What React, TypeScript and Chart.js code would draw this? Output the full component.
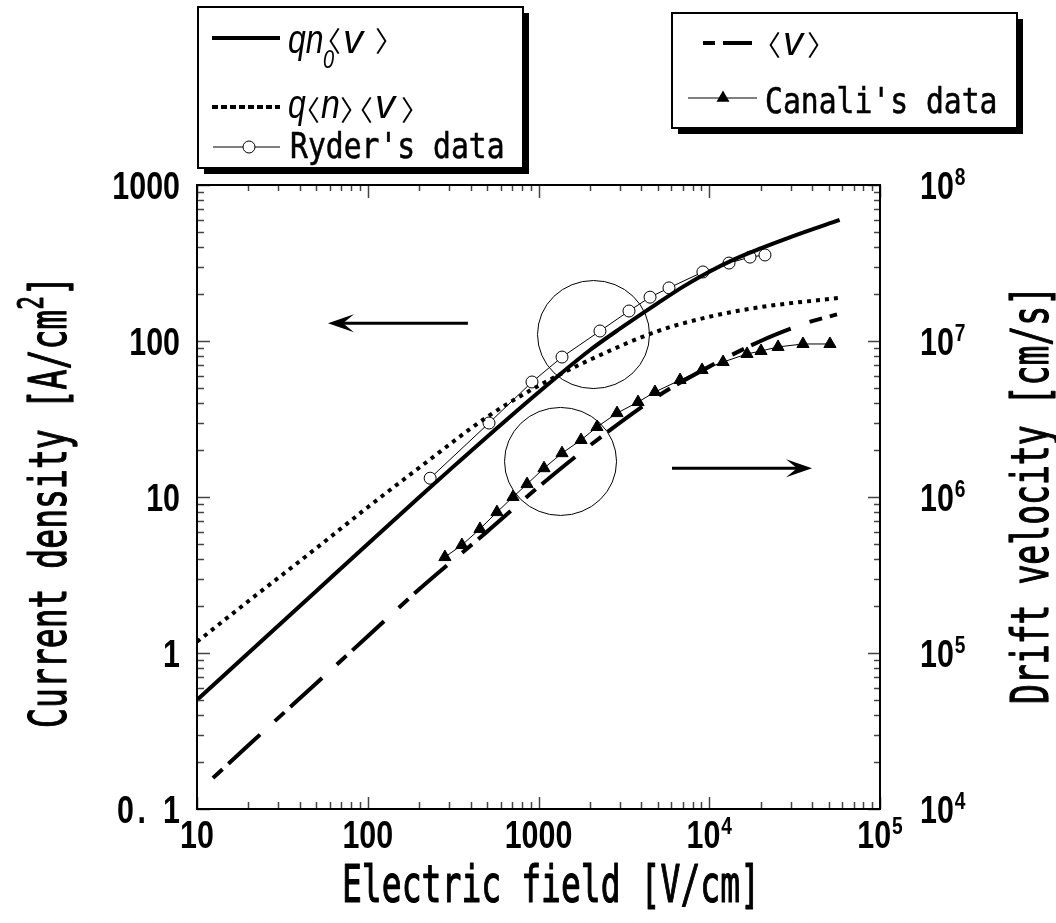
import React, { useEffect, useRef } from "react";
import { Chart, registerables } from "chart.js";

Chart.register(...registerables);

// ---------- data ----------
// q n0 <v>  (left axis, A/cm^2)
const qn0Field = [10, 20, 50, 100, 200, 316, 631, 1259, 1995, 3000, 5000, 7080, 10000, 14100, 20000, 31600, 58000];
const qn0Current = [0.5, 1.0, 2.5, 5.0, 9.95, 15.6, 30.4, 57.9, 87.2, 120, 175, 224, 278, 335, 392, 474, 597];

// q <n><v>  (left axis)
const qnvField = [10, 20, 50, 100, 200, 500, 1000, 2000, 5000, 10000, 20000, 58000];
const qnvCurrent = [1.18, 2.15, 4.7, 8.6, 15.4, 32.6, 51.6, 75.8, 115.7, 143, 165, 189];

// Ryder's data (left axis)
const ryderField = [232, 513, 916, 1373, 2291, 3388, 4500, 5810, 9180, 13050, 17330, 21200];
const ryderCurrent = [13.2, 29.8, 54.6, 78.9, 115.9, 155.7, 191, 219, 277, 316, 345, 356];

// <v>  (right axis, cm/s)
const vField = [12.4, 20, 50, 100, 200, 500, 1000, 2000, 5000, 10000, 20000, 30000, 40000, 56000];
const vVelocity = [1.58e4, 2.56e4, 6.4e4, 1.28e5, 2.56e5, 6.0e5, 1.16e6, 2.14e6, 4.43e6, 6.85e6, 1.0e7, 1.2e7, 1.34e7, 1.48e7];

// Canali's data (right axis)
const canaliField = [283, 356, 454, 571, 709, 857, 1077, 1373, 1775, 2201, 2884, 3828, 4810, 6745, 9075, 12050, 16640, 20100, 25290, 35400, 50930];
const canaliVelocity = [4.12e5, 4.92e5, 6.24e5, 8.0e5, 1.0e6, 1.21e6, 1.53e6, 1.91e6, 2.32e6, 2.81e6, 3.45e6, 4.06e6, 4.71e6, 5.62e6, 6.52e6, 7.33e6, 8.26e6, 8.63e6, 9.16e6, 9.57e6, 9.57e6];

// tick labels
const xTickValues = [10, 100, 1000, 1e4, 1e5];
const xTickBase = ["10", "100", "1000", "10", "10"];
const xTickSup = ["", "", "", "4", "5"];
const yTickValues = [0.1, 1, 10, 100, 1000];
const yTickLabels = ["0. 1", "1", "10", "100", "1000"];
const y2TickValues = [1e4, 1e5, 1e6, 1e7, 1e8];
const y2TickSup = ["4", "5", "6", "7", "8"];

// annotations (data coordinates)
const ringField = [2100, 1346];
const ringCurrent = [110, 16.9];
const arrowTailField = [386, 6050];
const arrowTipField = [58.5, 40000];
const arrowCurrent = [130, 15.3];

// ---------- fonts ----------
const MONO = '"DejaVu Sans Mono", monospace';
const SANS = '"Liberation Sans", Arial, sans-serif';
const TICK_FONT = `bold 38px ${SANS}`;
const SUP_FONT = `bold 24px ${SANS}`;
const TICK_SX = 0.8;
const TITLE_FONT = `52px ${MONO}`;
const TITLE_SUP_FONT = `36px ${MONO}`;
const TITLE_SX = 0.636;
const LEG_FONT = `36px ${MONO}`;
const LEG_SX = 0.825;
const ITAL = `italic 40px ${SANS}`;
const ITAL_SUB = `italic 25px ${SANS}`;
const BRACKET = `28px "Noto Sans CJK JP", "DejaVu Sans", sans-serif`;

function textAt(ctx: any, text: string, x: number, y: number, font: string, sx: number, align: any = "left", baseline: any = "alphabetic", bold = 0) {
  ctx.save();
  ctx.translate(x, y);
  ctx.scale(sx, 1);
  ctx.font = font;
  ctx.textAlign = align;
  ctx.textBaseline = baseline;
  ctx.fillText(text, 0, 0);
  if (bold > 0) {
    ctx.lineWidth = bold;
    ctx.strokeStyle = "#000";
    ctx.lineJoin = "round";
    ctx.strokeText(text, 0, 0);
  }
  ctx.restore();
}

function widthOf(ctx: any, text: string, font: string, sx: number) {
  ctx.save();
  ctx.font = font;
  const w = ctx.measureText(text).width * sx;
  ctx.restore();
  return w;
}

// CJK angle brackets sit off-centre in their em box; shift so the glyph lands at x
function openBracket(ctx: any, x: number, y: number) {
  textAt(ctx, "\u3008", x - 7, y, BRACKET, 1, "center", "middle");
}
function closeBracket(ctx: any, x: number, y: number) {
  textAt(ctx, "\u3009", x + 7, y, BRACKET, 1, "center", "middle");
}

function triangle(ctx: any, x: number, y: number, r: number) {
  ctx.beginPath();
  for (let i = 0; i < 3; i++) {
    const a = (i * 2 * Math.PI) / 3;
    const px = x + Math.sin(a) * r;
    const py = y - Math.cos(a) * r;
    if (i === 0) ctx.moveTo(px, py);
    else ctx.lineTo(px, py);
  }
  ctx.closePath();
  ctx.fill();
}

function arrow(ctx: any, x1: number, y: number, x2: number) {
  const dir = Math.sign(x2 - x1);
  ctx.lineWidth = 3;
  ctx.beginPath();
  ctx.moveTo(x1, y);
  ctx.lineTo(x2 - dir * 12, y);
  ctx.stroke();
  ctx.beginPath();
  ctx.moveTo(x2, y);
  ctx.lineTo(x2 - dir * 26, y - 9);
  ctx.lineTo(x2 - dir * 15, y);
  ctx.lineTo(x2 - dir * 26, y + 9);
  ctx.closePath();
  ctx.fill();
}

function box(ctx: any, x: number, y: number, w: number, h: number) {
  ctx.fillStyle = "#000";
  ctx.fillRect(x + 6, y + 6, w, h);
  ctx.fillStyle = "#fff";
  ctx.fillRect(x, y, w, h);
  ctx.strokeStyle = "#000";
  ctx.lineWidth = 2;
  ctx.strokeRect(x, y, w, h);
  ctx.fillStyle = "#000";
}

const decorPlugin = {
  id: "decor",
  afterDatasetsDraw(chart: any) {
    const ctx = chart.ctx;
    const xs = chart.scales.x;
    const ys = chart.scales.y;
    ctx.save();
    ctx.strokeStyle = "#000";
    ctx.fillStyle = "#000";
    ctx.lineWidth = 1;
    for (let i = 0; i < ringField.length; i++) {
      const cx = xs.getPixelForValue(ringField[i]);
      const cy = ys.getPixelForValue(ringCurrent[i]);
      ctx.beginPath();
      ctx.ellipse(cx, cy, 56, 54, 0, 0, Math.PI * 2);
      ctx.stroke();
    }
    for (let i = 0; i < arrowTailField.length; i++) {
      const y = ys.getPixelForValue(arrowCurrent[i]);
      arrow(ctx, xs.getPixelForValue(arrowTailField[i]), y, xs.getPixelForValue(arrowTipField[i]));
    }
    ctx.restore();
  },
  afterDraw(chart: any) {
    const ctx = chart.ctx;
    const a = chart.chartArea;
    const xs = chart.scales.x;
    const ys = chart.scales.y;
    const y2 = chart.scales.y2;
    ctx.save();

    // ---- ticks ----
    ctx.strokeStyle = "#444";
    ctx.lineWidth = 1.5;
    const logTicks = (min: number, max: number) => {
      const out: { v: number; major: boolean }[] = [];
      for (let e = Math.round(Math.log10(min)); e <= Math.round(Math.log10(max)); e++) {
        for (let k = 1; k <= 9; k++) {
          const v = k * Math.pow(10, e);
          if (v > max * 1.0001) break;
          out.push({ v, major: k === 1 });
        }
      }
      return out;
    };
    ctx.beginPath();
    for (const t of logTicks(10, 1e5)) {
      const px = Math.round(xs.getPixelForValue(t.v)) + 0.5;
      ctx.moveTo(px, a.bottom);
      ctx.lineTo(px, a.bottom - (t.major ? 12 : 7));
      ctx.moveTo(px, a.top);
      ctx.lineTo(px, a.top + (t.major ? 13 : 6));
    }
    for (const t of logTicks(0.1, 1000)) {
      const py = Math.round(ys.getPixelForValue(t.v)) + 0.5;
      ctx.moveTo(a.left, py);
      ctx.lineTo(a.left + (t.major ? 13 : 7), py);
    }
    for (const t of logTicks(1e4, 1e8)) {
      const py = Math.round(y2.getPixelForValue(t.v)) + 0.5;
      ctx.moveTo(a.right, py);
      ctx.lineTo(a.right - (t.major ? 12 : 6), py);
    }
    ctx.stroke();

    // ---- frame ----
    ctx.strokeStyle = "#000";
    ctx.lineWidth = 2;
    ctx.strokeRect(a.left, a.top, a.right - a.left, a.bottom - a.top);

    ctx.fillStyle = "#000";
    // ---- bottom tick labels ----
    for (let i = 0; i < xTickValues.length; i++) {
      const px = xs.getPixelForValue(xTickValues[i]);
      const wb = widthOf(ctx, xTickBase[i], TICK_FONT, TICK_SX);
      const ws = xTickSup[i] ? widthOf(ctx, xTickSup[i], SUP_FONT, TICK_SX) + 1 : 0;
      const x0 = px - (wb + ws) / 2;
      textAt(ctx, xTickBase[i], x0, 848, TICK_FONT, TICK_SX);
      if (xTickSup[i]) textAt(ctx, xTickSup[i], x0 + wb + 1, 834, SUP_FONT, TICK_SX);
    }
    // ---- left tick labels ----
    for (let i = 0; i < yTickValues.length; i++) {
      const py = ys.getPixelForValue(yTickValues[i]);
      const lab = yTickLabels[i];
      if (lab === "0. 1") {
        textAt(ctx, "1", 180, py + 14, TICK_FONT, TICK_SX, "right");
        textAt(ctx, ".", 146, py + 14, TICK_FONT, TICK_SX, "right");
        textAt(ctx, "0", 134, py + 14, TICK_FONT, TICK_SX, "right");
      } else {
        textAt(ctx, lab, 180, py + 14, TICK_FONT, TICK_SX, "right");
      }
    }
    // ---- right tick labels ----
    for (let i = 0; i < y2TickValues.length; i++) {
      const py = y2.getPixelForValue(y2TickValues[i]);
      const wb = widthOf(ctx, "10", TICK_FONT, TICK_SX);
      textAt(ctx, "10", 920, py + 14, TICK_FONT, TICK_SX);
      textAt(ctx, y2TickSup[i], 920 + wb + 1, py, SUP_FONT, TICK_SX);
    }

    // ---- axis titles ----
    textAt(ctx, "Electric field [V/cm]", 551, 902, TITLE_FONT, TITLE_SX, "center", "alphabetic", 1.2);

    const leftMain = "Current density [A/cm";
    const wMain = widthOf(ctx, leftMain, TITLE_FONT, TITLE_SX);
    const wSup = widthOf(ctx, "2", TITLE_SUP_FONT, TITLE_SX);
    const wEnd = widthOf(ctx, "]", TITLE_FONT, TITLE_SX);
    const total = wMain + wSup + wEnd;
    ctx.save();
    ctx.translate(66, 502);
    ctx.rotate(-Math.PI / 2);
    textAt(ctx, leftMain, -total / 2, 0, TITLE_FONT, TITLE_SX, "left", "alphabetic", 1.2);
    textAt(ctx, "2", -total / 2 + wMain, -23, TITLE_SUP_FONT, TITLE_SX, "left", "alphabetic", 1);
    textAt(ctx, "]", -total / 2 + wMain + wSup, 0, TITLE_FONT, TITLE_SX, "left", "alphabetic", 1.2);
    ctx.restore();

    ctx.save();
    ctx.translate(1048, 495);
    ctx.rotate(-Math.PI / 2);
    textAt(ctx, "Drift velocity [cm/s]", 0, 0, TITLE_FONT, TITLE_SX, "center", "alphabetic", 1.2);
    ctx.restore();

    // ---- legend box 1 ----
    box(ctx, 198, 7, 325, 161);
    ctx.strokeStyle = "#000";
    ctx.lineWidth = 4;
    ctx.beginPath();
    ctx.moveTo(212, 38);
    ctx.lineTo(280, 38);
    ctx.stroke();
    textAt(ctx, "qn", 288, 53, ITAL, 0.8);
    textAt(ctx, "0", 323, 68, ITAL_SUB, 0.8);
    openBracket(ctx, 334, 41);
    textAt(ctx, "v", 343, 53, ITAL, 1);
    closeBracket(ctx, 382, 41);

    ctx.setLineDash([6, 3]);
    ctx.beginPath();
    ctx.moveTo(212, 107);
    ctx.lineTo(280, 107);
    ctx.stroke();
    ctx.setLineDash([]);
    textAt(ctx, "q", 288, 118, ITAL, 0.8);
    openBracket(ctx, 313, 110);
    textAt(ctx, "n", 321, 118, ITAL, 0.85);
    closeBracket(ctx, 347, 110);
    openBracket(ctx, 366, 110);
    textAt(ctx, "v", 375, 118, ITAL, 1);
    closeBracket(ctx, 408, 110);

    ctx.lineWidth = 1;
    ctx.beginPath();
    ctx.moveTo(213, 147);
    ctx.lineTo(280, 147);
    ctx.stroke();
    ctx.beginPath();
    ctx.arc(249, 147, 6, 0, Math.PI * 2);
    ctx.fillStyle = "#fff";
    ctx.fill();
    ctx.stroke();
    ctx.fillStyle = "#000";
    textAt(ctx, "Ryder's data", 290, 158, LEG_FONT, LEG_SX, "left", "alphabetic", 0.6);

    // ---- legend box 2 ----
    box(ctx, 672, 13, 345, 115);
    ctx.lineWidth = 4;
    ctx.beginPath();
    ctx.moveTo(703, 43);
    ctx.lineTo(715, 43);
    ctx.moveTo(723, 43);
    ctx.lineTo(752, 43);
    ctx.stroke();
    openBracket(ctx, 774, 45);
    textAt(ctx, "v", 783, 55, ITAL, 1);
    closeBracket(ctx, 814, 45);

    ctx.lineWidth = 1;
    ctx.beginPath();
    ctx.moveTo(688, 98);
    ctx.lineTo(757, 98);
    ctx.stroke();
    triangle(ctx, 723, 98, 7.5);
    textAt(ctx, "Canali's data", 765, 113, LEG_FONT, LEG_SX, "left", "alphabetic", 0.6);

    ctx.restore();
  },
};

export default function App() {
  const ref = useRef<HTMLCanvasElement | null>(null);
  useEffect(() => {
    const canvas = ref.current;
    if (!canvas) return;
    const pts = (xs: number[], ys: number[]) => xs.map((x, i) => ({ x, y: ys[i] }));
    const chart = new Chart(canvas, {
      type: "line",
      data: {
        datasets: [
          {
            label: "qn0<v>",
            data: pts(qn0Field, qn0Current),
            yAxisID: "y",
            borderColor: "#000",
            borderWidth: 4,
            pointRadius: 0,
            cubicInterpolationMode: "monotone",
            fill: false,
          },
          {
            label: "q<n><v>",
            data: pts(qnvField, qnvCurrent),
            yAxisID: "y",
            borderColor: "#000",
            borderWidth: 4,
            borderDash: [4, 5],
            pointRadius: 0,
            cubicInterpolationMode: "monotone",
            fill: false,
          },
          {
            label: "<v>",
            data: pts(vField, vVelocity),
            yAxisID: "y2",
            borderColor: "#000",
            borderWidth: 4,
            borderDash: [13, 8, 43, 20],
            pointRadius: 0,
            cubicInterpolationMode: "monotone",
            fill: false,
          },
          {
            label: "Ryder's data",
            data: pts(ryderField, ryderCurrent),
            yAxisID: "y",
            borderColor: "#000",
            borderWidth: 1,
            tension: 0,
            pointStyle: "circle",
            pointRadius: 6,
            pointBorderWidth: 1,
            pointBackgroundColor: "#fff",
            pointBorderColor: "#000",
            fill: false,
          },
          {
            label: "Canali's data",
            data: pts(canaliField, canaliVelocity),
            yAxisID: "y2",
            borderColor: "#000",
            borderWidth: 1,
            tension: 0,
            pointStyle: "triangle",
            pointRadius: 7,
            pointBorderWidth: 1,
            pointBackgroundColor: "#000",
            pointBorderColor: "#000",
            fill: false,
          },
        ],
      },
      options: {
        responsive: false,
        animation: false,
        devicePixelRatio: 1,
        layout: { padding: { left: 197, right: 176, top: 185, bottom: 114 } },
        plugins: { legend: { display: false }, tooltip: { enabled: false } },
        scales: {
          x: { type: "logarithmic", min: 10, max: 1e5, display: false },
          y: { type: "logarithmic", min: 0.1, max: 1000, display: false },
          y2: { type: "logarithmic", min: 1e4, max: 1e8, display: false, position: "right" },
        },
      } as any,
      plugins: [decorPlugin],
    } as any);
    return () => chart.destroy();
  }, []);
  return (
    <div style={{ position: "absolute", left: 0, top: 0, width: 1056, height: 923, background: "#fff" }}>
      <canvas ref={ref} width={1056} height={923} />
    </div>
  );
}
